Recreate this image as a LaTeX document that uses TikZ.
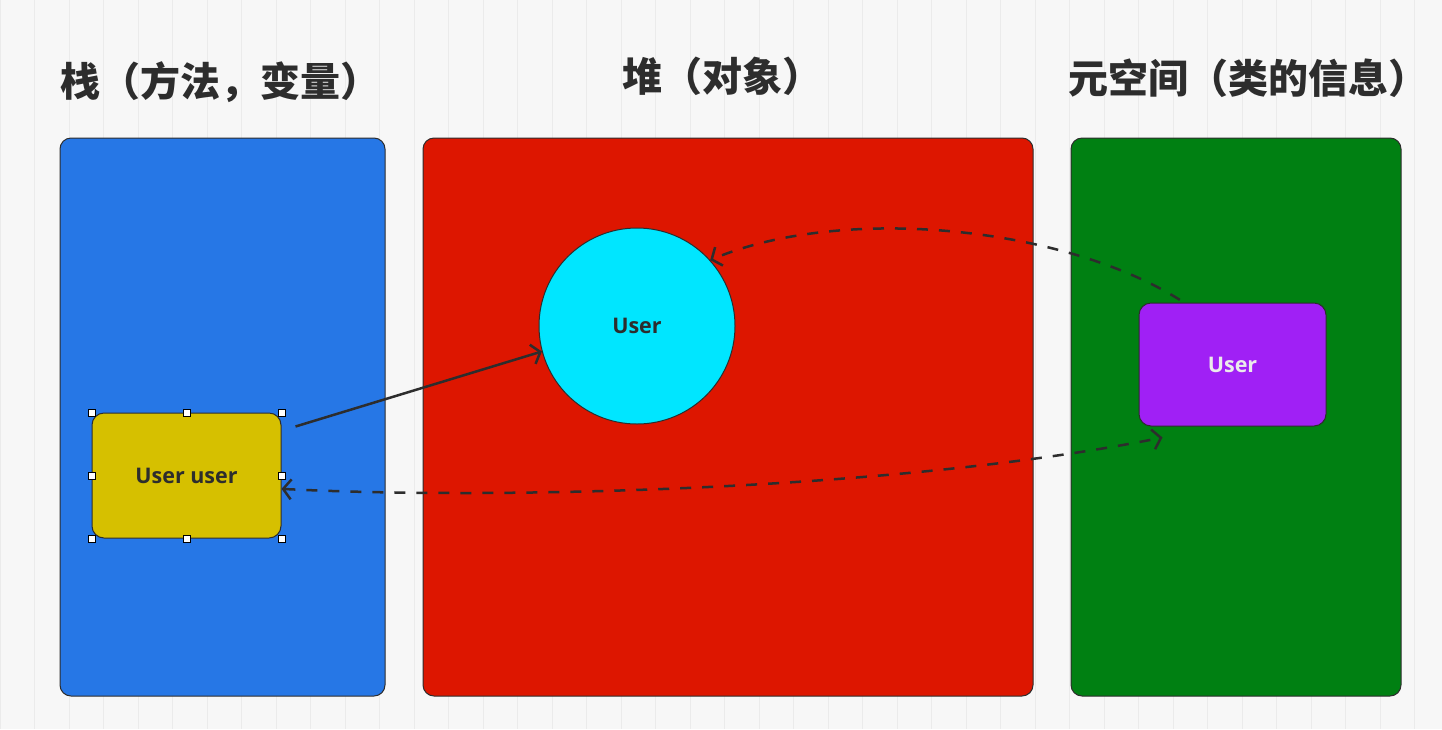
\documentclass[tikz,border=0pt]{standalone}
\usepackage{fontspec}
\setmainfont{Open Sans}
\newfontfamily\cjk{Noto Sans CJK SC}
\usetikzlibrary{arrows.meta}
\definecolor{stackblue}{RGB}{38,119,230}
\definecolor{heapred}{RGB}{221,22,0}
\definecolor{metagreen}{RGB}{0,128,18}
\definecolor{refyellow}{RGB}{214,192,0}
\definecolor{objcyan}{RGB}{0,230,255}
\definecolor{classpurple}{RGB}{160,32,245}
\definecolor{ink}{RGB}{45,45,45}
\tikzset{
  area/.style={draw=ink, line width=1pt, rounded corners=11pt},
  heading/.style={font=\cjk\bfseries\fontsize{40}{44}\selectfont, text=ink, inner sep=0pt},
  thing/.style={draw=ink, line width=1pt, font=\bfseries\fontsize{21.5}{24}\selectfont, text=ink},
  handle/.style={draw=black, fill=white, line width=0.6pt, minimum size=7pt, inner sep=0pt},
  link/.style={draw=ink, line width=2.5pt, -{Straight Barb[length=8pt,width=20pt]}},
}
\begin{document}
\begin{tikzpicture}[x=1pt,y=-1pt]
  \useasboundingbox[fill=black!3] (0,0) rectangle (1442,729);
  \draw[black!8, line width=0.8pt, step=34.5] (0,0) grid (1442,729);
  % three memory areas
  \draw
    (222.5,417) node[area, fill=stackblue, minimum width=325, minimum height=558] (stack){}
    (728,417) node[area, fill=heapred, minimum width=610, minimum height=558] (heap){}
    (1236,417) node[area, fill=metagreen, minimum width=330, minimum height=558] (meta){};
  \draw
    (60,82) node[heading, anchor=west] (stacktitle){栈（方法，变量）}
    (722,76) node[heading] (heaptitle){堆（对象）}
    (1068,78) node[heading, anchor=west] (metatitle){元空间（类的信息）};
  % contents
  \draw
    (186.5,475.5) node[thing, fill=refyellow, rounded corners=12pt, minimum width=189, minimum height=125] (user){User user}
    (637,326) node[thing, fill=objcyan, circle, minimum size=196] (obj){User}
    (1232.5,364.5) node[thing, fill=classpurple, text=white!92!black, rounded corners=12pt, minimum width=187, minimum height=123] (cls){User};
  \foreach \a in {north west,north,north east,east,south east,south,south west,west}
    \node[handle] at (user.\a) {};
  \begin{scope}[link]
    \draw ([shift={(14,14)}]user.north east) to (obj.195);
    \draw[dashed, dash pattern=on 11pt off 11pt, shorten <=5pt] (cls.128) .. controls (1060,225) and (840,205) .. (obj.42);
    \draw[dashed, dash pattern=on 11pt off 11pt, {Straight Barb[length=8pt,width=20pt]}-{Straight Barb[length=8pt,width=20pt]}]
      (user.-8) .. controls (500,500) and (900,490) .. ([shift={(24,11)}]cls.south west);
  \end{scope}
\end{tikzpicture}
\end{document}
